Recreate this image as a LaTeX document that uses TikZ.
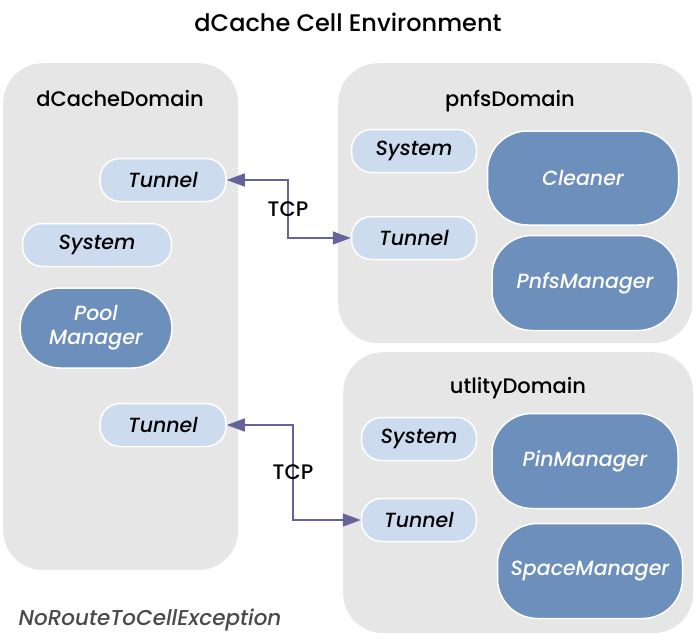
\documentclass[tikz,border=0pt]{standalone}
\usepackage{fontspec}
\setmainfont{Poppins}[UprightFont=* Medium, ItalicFont=* Medium Italic]
\usetikzlibrary{arrows.meta}
\definecolor{domaingray}{HTML}{E6E6E6}
\definecolor{celllight}{HTML}{CCDBEE}
\definecolor{celldark}{HTML}{6D8FBC}
\definecolor{tcpline}{HTML}{65639A}
\definecolor{excgray}{HTML}{4A4A4A}
\begin{document}
\begin{tikzpicture}
[x=1pt, y=-1pt,
domainbox/.style={rectangle, fill=domaingray, rounded corners=40pt, anchor=north west, inner sep=0pt},
domainlabel/.style={font=\fontsize{21}{25}\selectfont},
smallcell/.style={rectangle, fill=celllight, draw=white, line width=1.5pt, rounded corners=20pt, minimum width=126pt, minimum height=43pt, font=\fontsize{20.5}{24}\selectfont\itshape},
bigcell/.style={rectangle, fill=celldark, draw=white, line width=1.5pt, rounded corners=40pt, text=white, font=\fontsize{20.5}{24}\selectfont\itshape, align=center},
tcp/.style={{Triangle[length=18pt,width=13pt]}-{Triangle[length=18pt,width=13pt]}, draw=tcpline, line width=1.5pt}]
\useasboundingbox (0,0) rectangle (697,643);
\node[font=\fontsize{24}{28}\selectfont] (title) at (348,22) {dCache Cell Environment};
\node[domainbox, minimum width=235pt, minimum height=507pt] (dcache) at (3,63) {};
\node[domainbox, minimum width=354pt, minimum height=280pt] (pnfs) at (338,63) {};
\node[domainbox, minimum width=350pt, minimum height=281pt] (utility) at (343,352) {};
\node[domainlabel] (dcachelabel) at (120,99) {dCacheDomain};
\node[domainlabel] (pnfslabel) at (510,101) {pnfsDomain};
\node[domainlabel] (utilitylabel) at (518,388) {utlityDomain};
\node[smallcell]	(dcachetunnel1) at (163,180) {Tunnel};
\node[smallcell, minimum width=149pt]	(dcachesystem) at (97,245) {System};
\node[bigcell, minimum width=152pt, minimum height=80pt]	(poolmanager) at (96,328) {Pool\\Manager};
\node[smallcell]	(dcachetunnel2) at (163,425) {Tunnel};
\node[smallcell, minimum width=125pt]	(pnfssystem) at (414,151) {System};
\node[smallcell, minimum width=125pt]	(pnfstunnel) at (414,238) {Tunnel};
\node[bigcell, minimum width=191pt, minimum height=94pt]	(cleaner) at (583,178) {Cleaner};
\node[bigcell, minimum width=186pt, minimum height=95pt]	(pnfsmanager) at (585,283) {PnfsManager};
\node[smallcell, minimum width=115pt]	(utilitysystem) at (419,439) {System};
\node[smallcell, minimum width=115pt]	(utilitytunnel) at (419,520) {Tunnel};
\node[bigcell, minimum width=186pt, minimum height=95pt]	(pinmanager) at (585,461) {PinManager};
\node[bigcell, minimum width=185pt, minimum height=95pt]	(spacemanager) at (590,571) {SpaceManager};
\coordinate (bend1) at (288,0);
\coordinate (bend2) at (293,0);
\draw[tcp] (dcachetunnel1.east) -- (dcachetunnel1.east -| bend1) -- node[font=\fontsize{21}{25}\selectfont] {TCP} (bend1 |- pnfstunnel.west) -- (pnfstunnel.west);
\draw[tcp] (dcachetunnel2.east) -- (dcachetunnel2.east -| bend2) -- node[font=\fontsize{21}{25}\selectfont] {TCP} (bend2 |- utilitytunnel.west) -- (utilitytunnel.west);
\node[text=excgray, font=\fontsize{21.5}{25}\selectfont\itshape] (exception) at (150,620) {NoRouteToCellException};
\end{tikzpicture}
\end{document}
